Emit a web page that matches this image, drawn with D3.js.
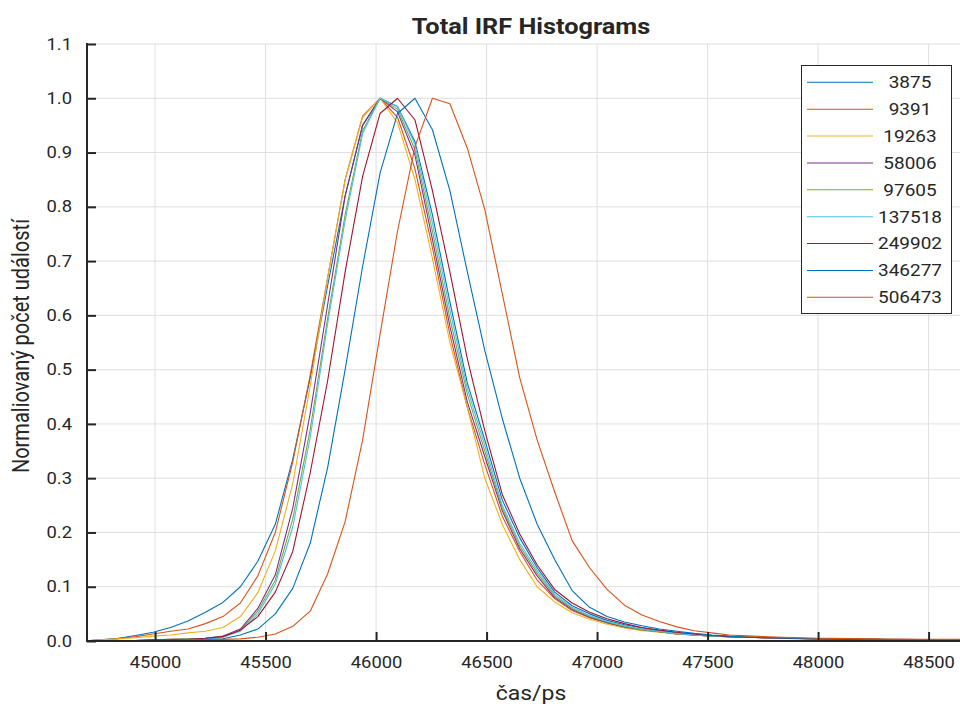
<!DOCTYPE html>
<html>
<head>
<meta charset="utf-8">
<script src="https://cdn.jsdelivr.net/npm/d3@7"></script>
<style>
  html, body { margin: 0; padding: 0; background: #fff; }
  svg { display: block; }
  text { font-family: Roboto, "Liberation Sans", Arial, sans-serif; fill: #262626; }
</style>
</head>
<body>
<svg id="chart" width="960" height="709"></svg>
<script>
// ---------------- data ----------------
const timeBins = [44675, 44754, 44833, 44912, 44991, 45070, 45149, 45228, 45307, 45386,
  45465, 45544, 45623, 45702, 45781, 45860, 45939, 46018, 46097, 46176,
  46255, 46334, 46413, 46492, 46571, 46650, 46729, 46808, 46887, 46966,
  47045, 47124, 47203, 47282, 47361, 47440, 47519, 47598, 47677, 47756,
  47835, 47914, 47993, 48072, 48151, 48230, 48309, 48388, 48467, 48546,
  48625, 48704];

const seriesNames = ["3875", "9391", "19263", "58006", "97605", "137518", "249902", "346277", "506473"];
const seriesColors = ["#0072BD", "#D95319", "#EDB120", "#7E2F8E", "#77AC30", "#4DBEEE", "#A2142F", "#0072BD", "#D95319"];

const s3875 = [0, 0.002, 0.005, 0.010, 0.016, 0.025, 0.037, 0.053, 0.071, 0.100,
  0.147, 0.215, 0.335, 0.485, 0.655, 0.82, 0.95, 1.0, 0.985, 0.92,
  0.785, 0.625, 0.475, 0.37, 0.26, 0.19, 0.135, 0.09, 0.065, 0.05,
  0.038, 0.03, 0.024, 0.019, 0.015, 0.012, 0.010, 0.008, 0.007, 0.006,
  0.005, 0.0045, 0.004, 0.0035, 0.003, 0.003, 0.0025, 0.0025, 0.002, 0.002,
  0.002, 0.002];
const s9391 = [0, 0.002, 0.004, 0.008, 0.013, 0.018, 0.022, 0.032, 0.045, 0.07,
  0.12, 0.20, 0.33, 0.49, 0.67, 0.85, 0.967, 1.0, 0.965, 0.87,
  0.725, 0.565, 0.43, 0.325, 0.23, 0.165, 0.112, 0.078, 0.056, 0.043,
  0.033, 0.026, 0.021, 0.017, 0.014, 0.011, 0.009, 0.008, 0.007, 0.006,
  0.005, 0.0045, 0.004, 0.0035, 0.003, 0.003, 0.0025, 0.0025, 0.002, 0.002,
  0.002, 0.002];
const s19263 = [0, 0.002, 0.004, 0.006, 0.009, 0.011, 0.015, 0.018, 0.025, 0.045,
  0.089, 0.166, 0.29, 0.47, 0.67, 0.85, 0.965, 1.0, 0.955, 0.85,
  0.705, 0.55, 0.43, 0.30, 0.215, 0.15, 0.10, 0.072, 0.052, 0.04,
  0.031, 0.024, 0.019, 0.016, 0.013, 0.011, 0.009, 0.008, 0.007, 0.006,
  0.005, 0.005, 0.004, 0.004, 0.003, 0.003, 0.002, 0.002, 0.002, 0.002,
  0.001, 0.001];
const s58006 = [0, 0, 0.001, 0.001, 0.002, 0.003, 0.004, 0.005, 0.009, 0.022,
  0.06, 0.122, 0.245, 0.42, 0.62, 0.82, 0.95, 1.0, 0.975, 0.895,
  0.74, 0.58, 0.44, 0.34, 0.24, 0.17, 0.12, 0.08, 0.058, 0.044,
  0.034, 0.026, 0.021, 0.017, 0.013, 0.011, 0.009, 0.008, 0.007, 0.006,
  0.005, 0.0045, 0.004, 0.0035, 0.003, 0.003, 0.0025, 0.0025, 0.002, 0.002,
  0.002, 0.002];
const s97605 = [0, 0, 0.001, 0.001, 0.002, 0.003, 0.004, 0.005, 0.008, 0.02,
  0.055, 0.112, 0.225, 0.39, 0.595, 0.785, 0.94, 1.0, 0.98, 0.905,
  0.755, 0.595, 0.455, 0.35, 0.245, 0.175, 0.125, 0.083, 0.06, 0.045,
  0.035, 0.027, 0.021, 0.017, 0.013, 0.011, 0.009, 0.008, 0.007, 0.006,
  0.005, 0.0045, 0.004, 0.0035, 0.003, 0.003, 0.0025, 0.0025, 0.002, 0.002,
  0.002, 0.002];
const s137518 = [0, 0, 0.001, 0.001, 0.002, 0.002, 0.003, 0.004, 0.007, 0.018,
  0.05, 0.105, 0.21, 0.375, 0.585, 0.775, 0.935, 1.0, 0.985, 0.915,
  0.77, 0.61, 0.465, 0.36, 0.25, 0.18, 0.13, 0.086, 0.062, 0.047,
  0.036, 0.028, 0.022, 0.018, 0.014, 0.011, 0.009, 0.008, 0.007, 0.006,
  0.005, 0.004, 0.004, 0.003, 0.003, 0.003, 0.002, 0.002, 0.002, 0.002,
  0.002, 0.002];
const s249902 = [0, 0, 0.001, 0.001, 0.002, 0.002, 0.003, 0.005, 0.008, 0.02,
  0.045, 0.09, 0.165, 0.31, 0.48, 0.68, 0.856, 0.972, 1.0, 0.96,
  0.83, 0.68, 0.52, 0.387, 0.27, 0.197, 0.14, 0.095, 0.07, 0.053,
  0.041, 0.032, 0.025, 0.02, 0.016, 0.013, 0.01, 0.008, 0.007, 0.006,
  0.005, 0.0045, 0.004, 0.0035, 0.003, 0.003, 0.0025, 0.0025, 0.002, 0.002,
  0.002, 0.002];
const s346277 = [0, 0, 0, 0.001, 0.001, 0.001, 0.002, 0.003, 0.004, 0.011,
  0.022, 0.05, 0.097, 0.18, 0.32, 0.5, 0.69, 0.862, 0.972, 1.0,
  0.942, 0.83, 0.68, 0.535, 0.41, 0.30, 0.215, 0.15, 0.093, 0.062,
  0.045, 0.035, 0.028, 0.022, 0.018, 0.014, 0.011, 0.009, 0.0075, 0.0065,
  0.0055, 0.005, 0.0045, 0.004, 0.0035, 0.003, 0.003, 0.0025, 0.0025, 0.002,
  0.002, 0.002];
const s506473 = [0, 0, 0, 0, 0.001, 0.001, 0.002, 0.002, 0.003, 0.004,
  0.007, 0.013, 0.027, 0.055, 0.124, 0.22, 0.37, 0.565, 0.755, 0.911,
  1.0, 0.99, 0.908, 0.795, 0.64, 0.485, 0.37, 0.275, 0.185, 0.135,
  0.095, 0.066, 0.048, 0.036, 0.026, 0.019, 0.015, 0.011, 0.0095, 0.008,
  0.007, 0.006, 0.005, 0.0048, 0.0045, 0.004, 0.0037, 0.0035, 0.0033, 0.003,
  0.003, 0.003];

const seriesValues = [s3875, s9391, s19263, s58006, s97605, s137518, s249902, s346277, s506473];

const xTickValues = [45000, 45500, 46000, 46500, 47000, 47500, 48000, 48500];
const yTickValues = [0, 0.1, 0.2, 0.3, 0.4, 0.5, 0.6, 0.7, 0.8, 0.9, 1.0, 1.1];

const titleText = "Total IRF Histograms";
const xLabelText = "čas/ps";
const yLabelText = "Normaliovaný počet událostí";

// ---------------- layout ----------------
const plot = { left: 87, right: 975, top: 44, bottom: 641 };
const stretch = 1.15; // horizontal text stretch seen in the reference
const svg = d3.select("#chart");

const x = d3.scaleLinear().domain([44692, 48710]).range([plot.left, plot.right]);
const y = d3.scaleLinear().domain([0, 1.1]).range([plot.bottom, plot.top]);

const axisColor = "#262626";
const gridColor = "#dfdfdf";

// grid
const grid = svg.append("g");
grid.selectAll("line.gx").data(xTickValues).join("line")
  .attr("x1", d => x(d)).attr("x2", d => x(d))
  .attr("y1", plot.top).attr("y2", plot.bottom)
  .attr("stroke", gridColor).attr("stroke-width", 1);
grid.selectAll("line.gy").data(yTickValues).join("line")
  .attr("x1", plot.left).attr("x2", plot.right)
  .attr("y1", d => y(d)).attr("y2", d => y(d))
  .attr("stroke", gridColor).attr("stroke-width", 1);

// clip
svg.append("clipPath").attr("id", "clip")
  .append("rect").attr("x", plot.left).attr("y", plot.top - 2)
  .attr("width", plot.right - plot.left).attr("height", plot.bottom - plot.top + 2);

const line = d3.line().x((d, i) => x(timeBins[i])).y(d => y(d));
const lines = svg.append("g").attr("clip-path", "url(#clip)");
seriesValues.forEach((vals, k) => {
  lines.append("path").datum(vals)
    .attr("d", line)
    .attr("fill", "none")
    .attr("stroke", seriesColors[k])
    .attr("stroke-width", 1.1)
    .attr("stroke-linejoin", "round");
});

// axes
const xAxis = d3.axisBottom(x).tickValues(xTickValues).tickSizeInner(-9).tickSizeOuter(0).tickPadding(16)
  .tickFormat(d3.format("d"));
const gx = svg.append("g").attr("transform", `translate(0,${plot.bottom})`).call(xAxis);
const yAxis = d3.axisLeft(y).tickValues(yTickValues).tickSizeInner(-9).tickSizeOuter(0).tickPadding(15)
  .tickFormat(d3.format(".1f"));
const gy = svg.append("g").attr("transform", `translate(${plot.left},0)`).call(yAxis);

[gx, gy].forEach(g => {
  g.select(".domain").remove();
  g.selectAll(".tick line").attr("stroke", axisColor).attr("stroke-width", 2);
  g.selectAll(".tick text").attr("fill", axisColor)
    .style("font-size", "16px").style("font-family", "Roboto, 'Liberation Sans', Arial, sans-serif");
});
gx.selectAll(".tick text").each(function() {
  const t = d3.select(this);
  const yy = +t.attr("y");
  t.attr("y", 0).attr("dy", "0.71em").attr("transform", `translate(0,${yy}) scale(${stretch},1)`);
});
gy.selectAll(".tick text").each(function() {
  const t = d3.select(this);
  const xx = +t.attr("x");
  t.attr("x", 0).attr("transform", `translate(${xx},0) scale(${stretch},1)`);
});

svg.append("line").attr("x1", plot.left).attr("x2", plot.right)
  .attr("y1", plot.bottom).attr("y2", plot.bottom)
  .attr("stroke", axisColor).attr("stroke-width", 2);
svg.append("line").attr("x1", plot.left).attr("x2", plot.left)
  .attr("y1", plot.top - 1).attr("y2", plot.bottom + 1)
  .attr("stroke", axisColor).attr("stroke-width", 2);

// title and labels
const cx = (plot.left + plot.right) / 2;
svg.append("text").attr("transform", `translate(${cx},34) scale(${stretch},1)`).attr("text-anchor", "middle")
  .style("font-size", "22px").style("font-weight", "bold").text(titleText);
svg.append("text").attr("transform", `translate(${cx},700) scale(${stretch},1)`).attr("text-anchor", "middle")
  .style("font-size", "20px").text(xLabelText);
svg.append("text").attr("transform", `translate(29,346) scale(${stretch},1) rotate(-90)`)
  .attr("text-anchor", "middle")
  .style("font-size", "20px").text(yLabelText);

// legend
const lg = svg.append("g");
const lgBox = { x: 801.5, y: 65.5, w: 150, h: 248 };
lg.append("rect").attr("x", lgBox.x).attr("y", lgBox.y).attr("width", lgBox.w).attr("height", lgBox.h)
  .attr("fill", "#fff").attr("stroke", axisColor).attr("stroke-width", 1);
const rowY = d3.scaleLinear().domain([0, seriesNames.length - 1]).range([82.3, 297.3]);
seriesNames.forEach((name, k) => {
  lg.append("line").attr("x1", 807).attr("x2", 873).attr("y1", rowY(k)).attr("y2", rowY(k))
    .attr("stroke", seriesColors[k]).attr("stroke-width", 1.1);
  lg.append("text").attr("transform", `translate(910,${rowY(k)}) scale(${stretch},1)`).attr("dy", "0.36em")
    .attr("text-anchor", "middle").style("font-size", "16.5px").text(name);
});
</script>
</body>
</html>
